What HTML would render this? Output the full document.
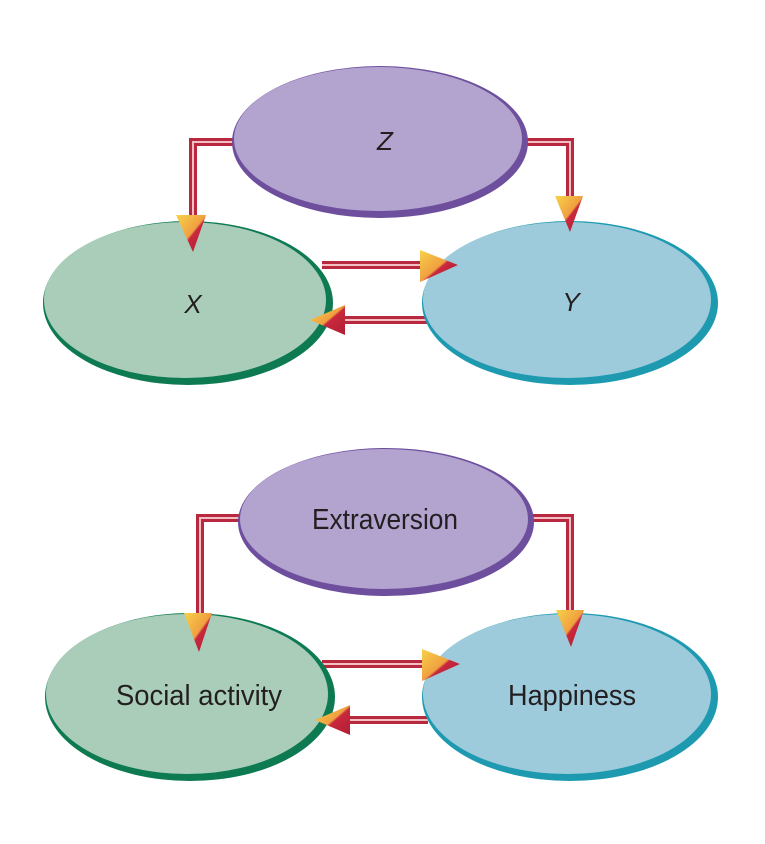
<!DOCTYPE html>
<html><head><meta charset="utf-8"><style>
html,body{margin:0;padding:0;background:#fff;}
svg{display:block;}
text{font-family:"Liberation Sans Narrow","Liberation Sans",sans-serif;fill:#231f20;}
</style></head><body>
<svg width="765" height="844" viewBox="0 0 765 844" xmlns="http://www.w3.org/2000/svg">
<defs>
<linearGradient id="ah" x1="0" y1="0" x2="1" y2="1">
<stop offset="0" stop-color="#f7d24a"/><stop offset="0.5" stop-color="#f0a040"/><stop offset="0.55" stop-color="#c8283c"/><stop offset="1" stop-color="#b01e35"/>
</linearGradient>
</defs>
<g id="top">
<g fill="none">
<path d="M236 142 H193 V235" stroke="#b8283e" stroke-width="8"/>
<path d="M236 142 H193 V235" stroke="#f2c0c4" stroke-width="2"/>
<path d="M525 142 H570 V212" stroke="#b8283e" stroke-width="8"/>
<path d="M525 142 H570 V212" stroke="#f2c0c4" stroke-width="2"/>
<path d="M322 265 H440" stroke="#b8283e" stroke-width="8"/>
<path d="M322 265 H440" stroke="#f2c0c4" stroke-width="2"/>
<path d="M428 320 H330" stroke="#b8283e" stroke-width="8"/>
<path d="M428 320 H330" stroke="#f2c0c4" stroke-width="2"/>
</g>
<ellipse cx="380" cy="142" rx="148" ry="76" fill="#6e4f9e"/>
<ellipse cx="378" cy="139" rx="144" ry="72" fill="#b3a3cf"/>
<ellipse cx="188" cy="303" rx="145" ry="82" fill="#0e7a52"/>
<ellipse cx="185" cy="300" rx="141" ry="78" fill="#a9cdb9"/>
<ellipse cx="570" cy="303" rx="148" ry="82" fill="#1e9ab0"/>
<ellipse cx="567" cy="300" rx="144" ry="78" fill="#9dcbdc"/>
<polygon points="176,215 206,215 193,252" fill="url(#ah)"/>
<polygon points="555,196 583,196 570,232" fill="url(#ah)"/>
<polygon points="420,250 458,265 420,282" fill="url(#ah)"/>
<polygon points="345,305 310,320 345,335" fill="url(#ah)"/>
<text x="385" y="150" font-size="26" font-style="italic" text-anchor="middle">Z</text>
<text x="193" y="313" font-size="26" font-style="italic" text-anchor="middle">X</text>
<text x="571" y="311" font-size="26" font-style="italic" text-anchor="middle">Y</text>
</g>
<g id="bot">
<g fill="none">
<path d="M240 518 H200 V630" stroke="#b8283e" stroke-width="8"/>
<path d="M240 518 H200 V630" stroke="#f2c0c4" stroke-width="2"/>
<path d="M525 518 H570 V612" stroke="#b8283e" stroke-width="8"/>
<path d="M525 518 H570 V612" stroke="#f2c0c4" stroke-width="2"/>
<path d="M322 664 H440" stroke="#b8283e" stroke-width="8"/>
<path d="M322 664 H440" stroke="#f2c0c4" stroke-width="2"/>
<path d="M428 720 H335" stroke="#b8283e" stroke-width="8"/>
<path d="M428 720 H335" stroke="#f2c0c4" stroke-width="2"/>
</g>
<ellipse cx="386" cy="522" rx="148" ry="74" fill="#6e4f9e"/>
<ellipse cx="384" cy="519" rx="144" ry="70" fill="#b3a3cf"/>
<ellipse cx="190" cy="697" rx="145" ry="84" fill="#0e7a52"/>
<ellipse cx="187" cy="694" rx="141" ry="80" fill="#a9cdb9"/>
<ellipse cx="570" cy="697" rx="148" ry="84" fill="#1e9ab0"/>
<ellipse cx="567" cy="694" rx="144" ry="80" fill="#9dcbdc"/>
<polygon points="184,613 212,613 199,652" fill="url(#ah)"/>
<polygon points="556,610 584,610 571,647" fill="url(#ah)"/>
<polygon points="422,649 460,664 422,681" fill="url(#ah)"/>
<polygon points="350,705 315,720 350,735" fill="url(#ah)"/>
<text x="385" y="529" font-size="29" text-anchor="middle" textLength="146" lengthAdjust="spacingAndGlyphs">Extraversion</text>
<text x="199" y="705" font-size="29" text-anchor="middle" textLength="166" lengthAdjust="spacingAndGlyphs">Social activity</text>
<text x="572" y="705" font-size="29" text-anchor="middle" textLength="128" lengthAdjust="spacingAndGlyphs">Happiness</text>
</g>
</svg>
</body></html>
